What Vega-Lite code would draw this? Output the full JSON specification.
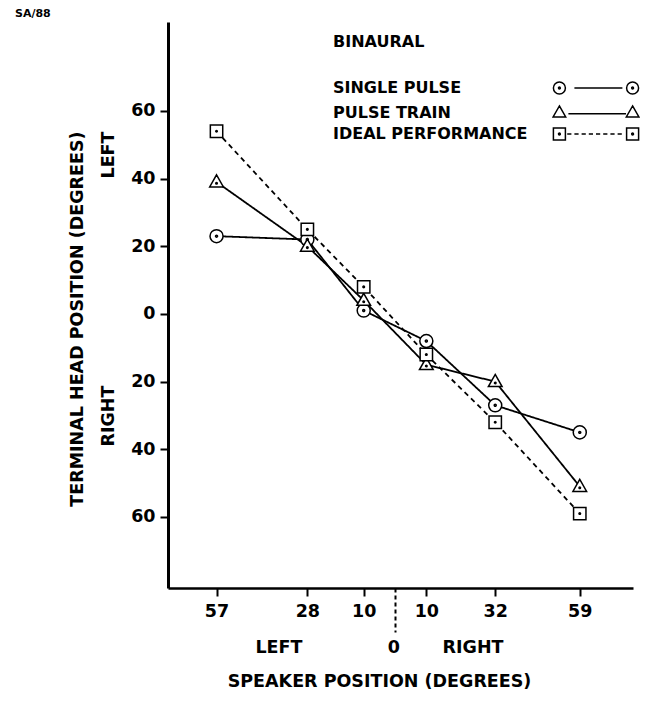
{
  "$schema": "https://vega.github.io/schema/vega-lite/v6.json",
  "width": 465,
  "height": 566,
  "autosize": {"type": "none"},
  "padding": {"left": 168, "top": 22, "right": 34, "bottom": 127},
  "background": "white",
  "config": {"view": {"stroke": null}, "font": "DejaVu Sans"},
  "title": {
    "text": "SA/88",
    "anchor": "start",
    "frame": "group",
    "dx": -153,
    "offset": 3,
    "font": "DejaVu Sans",
    "fontSize": 11,
    "fontWeight": "bold",
    "color": "black"
  },
  "data": {
    "values": [
      {"speaker": -57, "head": 23, "series": "SINGLE PULSE"},
      {"speaker": -28, "head": 22, "series": "SINGLE PULSE"},
      {"speaker": -10, "head": 1, "series": "SINGLE PULSE"},
      {"speaker": 10, "head": -8, "series": "SINGLE PULSE"},
      {"speaker": 32, "head": -27, "series": "SINGLE PULSE"},
      {"speaker": 59, "head": -35, "series": "SINGLE PULSE"},
      {"speaker": -57, "head": 39, "series": "PULSE TRAIN"},
      {"speaker": -28, "head": 20, "series": "PULSE TRAIN"},
      {"speaker": -10, "head": 4, "series": "PULSE TRAIN"},
      {"speaker": 10, "head": -15, "series": "PULSE TRAIN"},
      {"speaker": 32, "head": -20, "series": "PULSE TRAIN"},
      {"speaker": 59, "head": -51, "series": "PULSE TRAIN"},
      {"speaker": -57, "head": 54, "series": "IDEAL PERFORMANCE"},
      {"speaker": -28, "head": 25, "series": "IDEAL PERFORMANCE"},
      {"speaker": -10, "head": 8, "series": "IDEAL PERFORMANCE"},
      {"speaker": 10, "head": -12, "series": "IDEAL PERFORMANCE"},
      {"speaker": 32, "head": -32, "series": "IDEAL PERFORMANCE"},
      {"speaker": 59, "head": -59, "series": "IDEAL PERFORMANCE"}
    ]
  },
  "encoding": {
    "x": {
      "field": "speaker",
      "type": "quantitative",
      "scale": {"domain": [-72.5, 76], "nice": false, "zero": false},
      "axis": {
        "values": [-57, -28, -10, 0, 10, 32, 59],
        "labelExpr": "datum.value === 0 ? '' : '' + abs(datum.value)",
        "grid": false,
        "domainColor": "black",
        "domainWidth": 2.5,
        "tickColor": "black",
        "tickWidth": 2,
        "tickSize": {"condition": {"test": "datum.value === 0", "value": 44}, "value": 8},
        "tickDash": {"condition": {"test": "datum.value === 0", "value": [4, 3]}, "value": []},
        "labelPadding": 6,
        "labelFont": "DejaVu Sans",
        "labelFontSize": 17.5,
        "labelFontWeight": "bold",
        "labelColor": "black",
        "labelFlush": false,
        "labelOverlap": false,
        "title": ["LEFT\u00a0\u00a0\u00a0\u00a0\u00a0\u00a0\u00a0\u00a0\u00a0\u00a0\u00a0\u00a0\u00a0\u00a00\u00a0\u00a0\u00a0\u00a0\u00a0\u00a0\u00a0RIGHT", "SPEAKER POSITION (DEGREES)"],
        "titleFont": "DejaVu Sans",
        "titleFontSize": 17.5,
        "titleFontWeight": "bold",
        "titleColor": "black",
        "titleLineHeight": 34,
        "titleAlign": "center",
        "titleBaseline": "top",
        "titleX": 211,
        "titleY": 50
      }
    },
    "y": {
      "field": "head",
      "type": "quantitative",
      "scale": {"domain": [-81, 86.3], "nice": false, "zero": false},
      "axis": {
        "values": [-60, -40, -20, 0, 20, 40, 60],
        "labelExpr": "'' + abs(datum.value)",
        "grid": false,
        "domainColor": "black",
        "domainWidth": 3,
        "tickColor": "black",
        "tickWidth": 2,
        "tickSize": 8,
        "labelPadding": 5,
        "labelFont": "DejaVu Sans",
        "labelFontSize": 17.5,
        "labelFontWeight": "bold",
        "labelColor": "black",
        "title": ["TERMINAL HEAD POSITION (DEGREES)", "RIGHT\u00a0\u00a0\u00a0\u00a0\u00a0\u00a0\u00a0\u00a0\u00a0\u00a0\u00a0\u00a0\u00a0\u00a0\u00a0\u00a0\u00a0\u00a0\u00a0\u00a0\u00a0\u00a0\u00a0\u00a0\u00a0\u00a0\u00a0\u00a0\u00a0\u00a0\u00a0\u00a0\u00a0\u00a0LEFT"],
        "titleFont": "DejaVu Sans",
        "titleFontSize": 17.5,
        "titleFontWeight": "bold",
        "titleColor": "black",
        "titleAngle": 270,
        "titleLineHeight": 31,
        "titleAlign": "right",
        "titleBaseline": "top",
        "titleX": -100,
        "titleY": 109
      }
    }
  },
  "layer": [
    {
      "mark": {"type": "line", "color": "black", "strokeWidth": 1.8},
      "encoding": {
        "detail": {"field": "series", "type": "nominal"},
        "strokeDash": {
          "field": "series",
          "type": "nominal",
          "scale": {
            "domain": ["SINGLE PULSE", "PULSE TRAIN", "IDEAL PERFORMANCE"],
            "range": [[1, 0], [1, 0], [5, 4]]
          },
          "legend": null
        }
      }
    },
    {
      "mark": {"type": "point", "size": 170, "fill": "white", "stroke": "black", "strokeWidth": 1.5, "opacity": 1, "fillOpacity": 1},
      "encoding": {
        "shape": {
          "field": "series",
          "type": "nominal",
          "scale": {
            "domain": ["SINGLE PULSE", "PULSE TRAIN", "IDEAL PERFORMANCE"],
            "range": [
              "M1,0A1,1,0,1,1,-1,0A1,1,0,1,1,1,0Z M0.15,0A0.15,0.15,0,1,1,-0.15,0A0.15,0.15,0,1,1,0.15,0Z",
              "M0,-1.1L1.05,0.75L-1.05,0.75Z M0.12,0.2A0.12,0.12,0,1,1,-0.12,0.2A0.12,0.12,0,1,1,0.12,0.2Z",
              "M-0.95,-0.95L0.95,-0.95L0.95,0.95L-0.95,0.95Z M0.12,0A0.12,0.12,0,1,1,-0.12,0A0.12,0.12,0,1,1,0.12,0Z"
            ]
          },
          "legend": null
        }
      }
    },
    {
      "transform": [{"filter": "false"}],
      "mark": {"type": "point", "size": 144, "filled": false, "color": "black", "strokeWidth": 1.5, "opacity": 1},
      "encoding": {
        "shape": {
          "field": "series",
          "type": "nominal",
          "scale": {
            "domain": ["SINGLE PULSE", "PULSE TRAIN", "IDEAL PERFORMANCE"],
            "range": [
              "M-5.1,0A1,1,0,1,1,-7.1,0A1,1,0,1,1,-5.1,0Z M-5.95,0A0.15,0.15,0,1,1,-6.25,0A0.15,0.15,0,1,1,-5.95,0Z M-3.6,0L4.4,0 M7.1,0A1,1,0,1,1,5.1,0A1,1,0,1,1,7.1,0Z M6.25,0A0.15,0.15,0,1,1,5.95,0A0.15,0.15,0,1,1,6.25,0Z",
              "M-6.1,-1.1L-5.05,0.75L-7.15,0.75Z M-4.6,0.2L5,0.2 M6.1,-1.1L7.15,0.75L5.05,0.75Z",
              "M-7.1,-1L-5.1,-1L-5.1,1L-7.1,1Z M-5.95,0A0.15,0.15,0,1,1,-6.25,0A0.15,0.15,0,1,1,-5.95,0Z M-4.8,0L-4.1,0 M-3.6,0L-2.9,0 M-2.4,0L-1.7,0 M-1.2,0L-0.5,0 M0,0L0.7,0 M1.2,0L1.9,0 M2.4,0L3.1,0 M3.6,0L4.3,0 M5.1,-1L7.1,-1L7.1,1L5.1,1Z M6.25,0A0.15,0.15,0,1,1,5.95,0A0.15,0.15,0,1,1,6.25,0Z"
            ]
          },
          "legend": {
            "title": "BINAURAL",
            "orient": "none",
            "legendX": 165,
            "legendY": 12,
            "titleFont": "DejaVu Sans",
            "titleFontSize": 16,
            "titleFontWeight": "bold",
            "titleColor": "black",
            "titlePadding": 30,
            "labelFont": "DejaVu Sans",
            "labelFontSize": 16,
            "labelFontWeight": "bold",
            "labelColor": "black",
            "labelLimit": 400,
            "labelOffset": -271,
            "symbolOffset": 255,
            "rowPadding": 4.5,
            "symbolSize": 144,
            "symbolStrokeWidth": 1.5,
            "symbolStrokeColor": "black",
            "symbolFillColor": "transparent"
          }
        }
      }
    }
  ],
  "resolve": {"scale": {"shape": "independent"}, "legend": {"shape": "independent"}}
}
